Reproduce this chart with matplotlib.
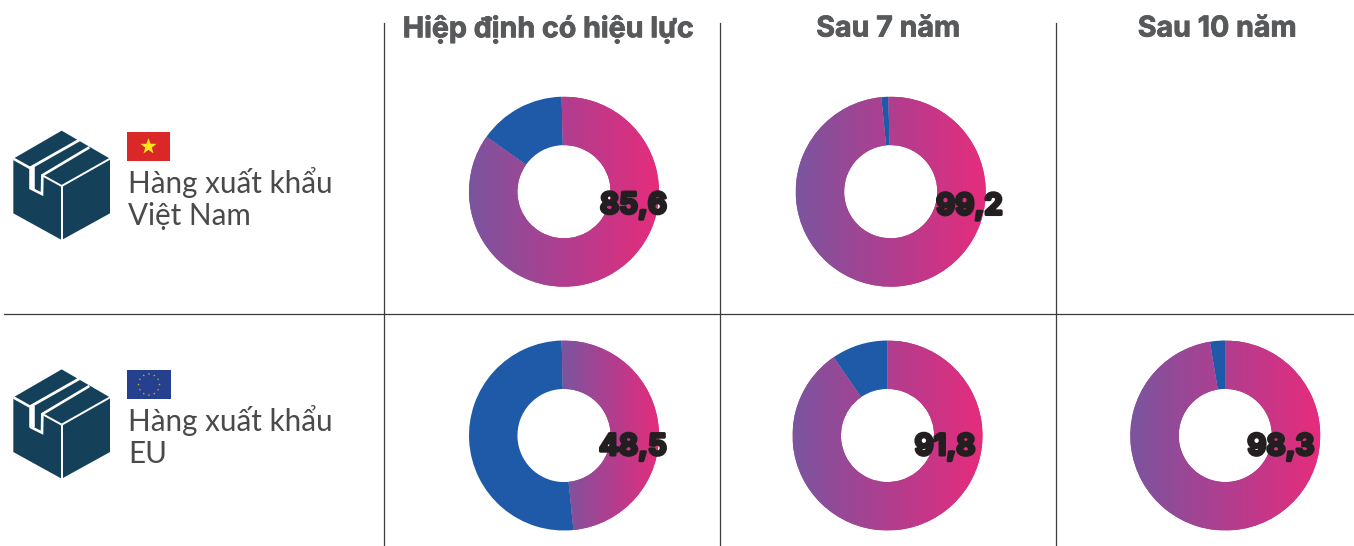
#plot.py
import numpy as np
import matplotlib
matplotlib.use('Agg')
import matplotlib.pyplot as plt
import matplotlib.patheffects as pe
from matplotlib.colors import LinearSegmentedColormap
from matplotlib.patches import Polygon, Rectangle

W, H = 1354, 546

col_titles = ['Hiệp định có hiệu lực', 'Sau 7 năm', 'Sau 10 năm']
row_labels = ['Hàng xuất khẩu\nViệt Nam', 'Hàng xuất khẩu\nEU']
#printed numbers
vn_texts = ['85,6', '99,2', '']
eu_texts = ['48,5', '91,8', '98,3']
#slice sizes as drawn in the picture, they differ a bit from the printed numbers
vn_values = [85.2, 98.8, None]
eu_values = [48.8, 90.4, 97.4]

#pixel positions of the donuts and their numbers
vn_centers = [(564, 191.7), (890.7, 191.7), None]
eu_centers = [(564, 435.5), (887.5, 435.5), (1225.3, 435.5)]
vn_rotate = [1.4, 1.4, 0]
eu_rotate = [1.4, 0, 0]
vn_text_pos = [(633.5, 206), (969.5, 207), None]
eu_text_pos = [(633, 447.5), (945, 447.5), (1281, 447.5)]
title_x = [548, 888, 1217]
radius = 95

BLUE = '#1F5AA8'
DARK = '#14405A'
cmap = LinearSegmentedColormap.from_list('grad', ['#7B559F', '#B03E8F', '#E62C7C'])
gradient = np.linspace(0, 1, 256).reshape(1, -1)

TEXT_FONT = ['Lato', 'Open Sans', 'DejaVu Sans']
TITLE_FONT = ['Inter', 'DejaVu Sans']


def donut(fig, center, value, rotate):
	cx, cy = center
	ax = fig.add_axes([(cx - radius) / W, 1 - (cy + radius) / H, 2 * radius / W, 2 * radius / H])
	wedges, _ = ax.pie([value, 100 - value], colors=['#B03E8F', BLUE], startangle=90 + rotate, counterclock=False,
			radius=1, wedgeprops={'width': 0.51, 'linewidth': 0})
	ax.set_aspect('equal')
	ax.axis('off')
	#gradient runs over the width of the value slice only
	left = wedges[0].get_path().get_extents().x0
	im = ax.imshow(gradient, cmap=cmap, extent=[left, 1, -1, 1], aspect='auto', zorder=3)
	im.set_clip_path(wedges[0])
	ax.set_xlim(-1, 1)
	ax.set_ylim(-1, 1)


def box_icon(ov, dy):
	#coordinates taken from a 3x crop, so scale them back down
	def pts(lst):
		return [(x / 3, y / 3 + dy) for x, y in lst]
	hexagon = [(185, 62), (330, 146), (330, 310), (185, 390), (40, 310), (40, 146)]
	ov.add_patch(Polygon(pts(hexagon), closed=True, fc=DARK, ec='none', zorder=2))
	white_lines = [
		([(40, 146), (90, 174)], 1.9),
		([(96, 172), (96, 236)], 4.0),
		([(90, 234), (126, 252), (127, 196), (268, 112)], 1.9),
		([(90, 174), (238, 90)], 2.0),
		([(185, 228), (330, 146)], 1.4),
		([(185, 228), (185, 390)], 1.4),
		([(185, 228), (127, 196)], 1.4),
	]
	for line, lw in white_lines:
		p = pts(line)
		ov.plot([a[0] for a in p], [a[1] for a in p], color='white', lw=lw, zorder=3, solid_joinstyle='miter', solid_capstyle='butt')


def star(ov, cx, cy, r, color):
	angles = np.pi / 2 + np.arange(10) * np.pi / 5
	rad = np.where(np.arange(10) % 2 == 0, r, r * 0.4)
	xy = np.column_stack([cx + rad * np.cos(angles), cy - rad * np.sin(angles)])
	ov.add_patch(Polygon(xy, closed=True, fc=color, ec='none', zorder=3))


fig = plt.figure(figsize=(W / 100, H / 100), dpi=100)
fig.patch.set_facecolor('white')

for c, v, r in zip(vn_centers, vn_values, vn_rotate):
	if v is not None:
		donut(fig, c, v, r)
for c, v, r in zip(eu_centers, eu_values, eu_rotate):
	donut(fig, c, v, r)

#overlay in pixel coordinates for lines, icons and text
ov = fig.add_axes([0, 0, 1, 1], zorder=10)
ov.set_xlim(0, W)
ov.set_ylim(H, 0)
ov.axis('off')
ov.patch.set_alpha(0)

for x in [384, 720, 1056]:
	ov.plot([x, x], [23, H], color='#3c3c3c', lw=0.9)
ov.plot([4, W], [314, 314], color='#3c3c3c', lw=0.9)

title_stroke = [pe.withStroke(linewidth=0.6, foreground='#58595B')]
for x, t in zip(title_x, col_titles):
	ov.text(x, 29, t, ha='center', va='center', fontsize=20.6, fontweight='bold', color='#58595B', family=TITLE_FONT,
			path_effects=title_stroke)

box_icon(ov, 110)
box_icon(ov, 348.7)

#flags
ov.add_patch(Rectangle((127, 132), 43, 29, fc='#DA2828', ec='none', zorder=2))
star(ov, 148.5, 146.5, 8.5, '#FFE81A')
ov.add_patch(Rectangle((127, 370), 44, 29, fc='#25408F', ec='none', zorder=2))
for a in np.arange(12) * np.pi / 6:
	star(ov, 149 + 10.5 * np.cos(a), 384.5 + 10.5 * np.sin(a), 1.3, '#D9A92B')

for y, label in zip([183, 421], row_labels):
	first, second = label.split('\n')
	ov.text(128, y, first, ha='left', va='center', fontsize=21.3, color='#4a4a4a', family=TEXT_FONT)
	ov.text(128, y + 33, second, ha='left', va='center', fontsize=21.3, color='#4a4a4a', family=TEXT_FONT)

stroke = [pe.withStroke(linewidth=2.2, foreground='#231F20')]
for pos, t in zip(vn_text_pos + eu_text_pos, vn_texts + eu_texts):
	if pos is not None:
		ov.text(pos[0], pos[1], t, ha='center', va='center', fontsize=21.2, fontweight='bold', color='#231F20',
				family=TITLE_FONT, path_effects=stroke)

fig.savefig('out.png', dpi=100)
